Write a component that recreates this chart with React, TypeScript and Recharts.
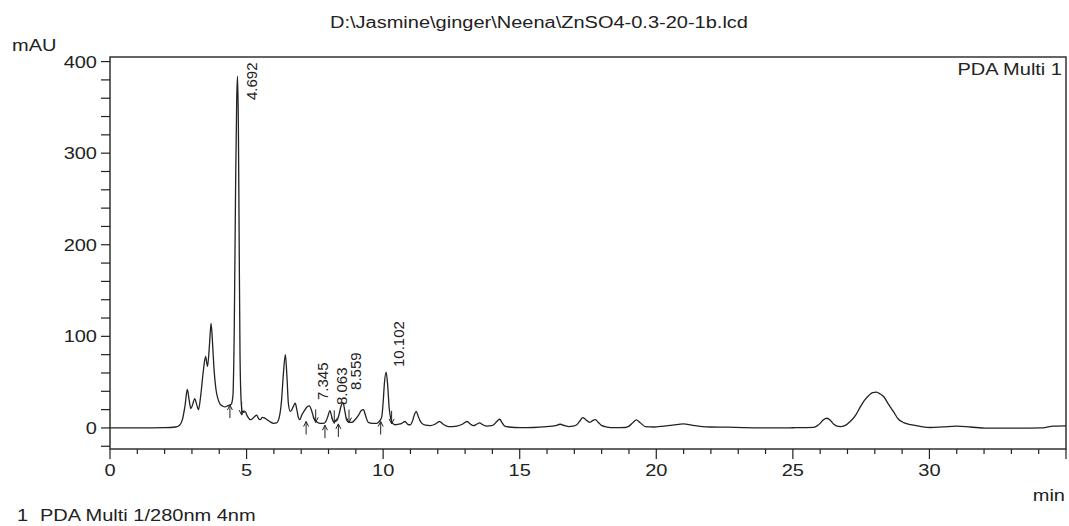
import React from "react";
import { LineChart, Line, XAxis, YAxis, ReferenceArea, ReferenceDot } from "recharts";

// retention time (min), signal (mAU)
const trace: [number, number][] = [
  [0, 0], [1.0, 0], [2.0, 0.3], [2.4, 1], [2.55, 3], [2.65, 9], [2.75, 25], [2.83, 42],
  [2.9, 30], [2.96, 21], [3.03, 26], [3.1, 32], [3.17, 26], [3.24, 20], [3.32, 35],
  [3.42, 63], [3.5, 78], [3.57, 67], [3.64, 90], [3.7, 114], [3.75, 95], [3.8, 68],
  [3.88, 42], [3.95, 32], [4.03, 26], [4.12, 24], [4.21, 23], [4.3, 24], [4.37, 25],
  [4.44, 26], [4.5, 35], [4.55, 110], [4.6, 270], [4.64, 360], [4.67, 384], [4.7, 330],
  [4.73, 200], [4.76, 80], [4.8, 30], [4.84, 18], [4.9, 17], [4.95, 18], [5.01, 14],
  [5.07, 11], [5.13, 9], [5.19, 9.5], [5.28, 12], [5.37, 14], [5.44, 10], [5.5, 9],
  [5.58, 11.5], [5.65, 11], [5.75, 9], [5.85, 7], [5.98, 5], [6.1, 5.5], [6.2, 12],
  [6.28, 30], [6.35, 60], [6.42, 80], [6.48, 55], [6.53, 27], [6.6, 18], [6.66, 20],
  [6.72, 24], [6.78, 27], [6.84, 20], [6.9, 11], [6.95, 9], [7.02, 14], [7.1, 18],
  [7.22, 23], [7.3, 24], [7.38, 19], [7.45, 12], [7.52, 8], [7.6, 6], [7.7, 5],
  [7.81, 5], [7.9, 7], [7.98, 13], [8.05, 19], [8.12, 12], [8.18, 7], [8.3, 8],
  [8.38, 14], [8.46, 24], [8.53, 28], [8.6, 18], [8.66, 9], [8.75, 6], [8.85, 6],
  [8.97, 9], [9.1, 14], [9.2, 19], [9.28, 20], [9.36, 13], [9.46, 6], [9.6, 5],
  [9.77, 5], [9.88, 8], [9.95, 12], [10.0, 28], [10.05, 50], [10.11, 61], [10.17, 45],
  [10.22, 22], [10.28, 10], [10.35, 5], [10.44, 3.5], [10.55, 4], [10.68, 5], [10.8, 7],
  [10.9, 4], [10.99, 3.5], [11.08, 8], [11.14, 14], [11.21, 18], [11.28, 13], [11.35, 8],
  [11.42, 5], [11.55, 3], [11.72, 2.5], [11.9, 4], [12.06, 7], [12.2, 4], [12.39, 1.5],
  [12.55, 1.5], [12.7, 2], [12.9, 4], [13.07, 7], [13.2, 4], [13.31, 2.5], [13.42, 4],
  [13.53, 5.5], [13.65, 3.5], [13.8, 2], [13.95, 2.5], [14.05, 3.5], [14.16, 7],
  [14.26, 9.5], [14.36, 5.5], [14.45, 2], [14.6, 1], [15.02, 0.3], [15.5, 0.5],
  [16.0, 1.5], [16.3, 2.5], [16.48, 4], [16.65, 2.5], [16.79, 1.5], [16.95, 2],
  [17.09, 3.5], [17.2, 7.5], [17.31, 11.3], [17.42, 9], [17.56, 6], [17.67, 8],
  [17.77, 9], [17.88, 6], [18.01, 2.5], [18.2, 1], [18.44, 0.3], [18.86, 0.5],
  [19.0, 2], [19.15, 6], [19.27, 8.7], [19.4, 6], [19.6, 1.5], [19.9, 1], [20.27, 2],
  [20.6, 3], [21.0, 4.4], [21.3, 3], [21.6, 1.8], [22.0, 1], [22.6, 0.8], [23.2, 0.3],
  [24.05, 0], [25.0, 0.2], [25.76, 0.7], [25.9, 2.5], [26.0, 5], [26.12, 9],
  [26.25, 10.6], [26.38, 8], [26.5, 4], [26.62, 2], [26.74, 1.5], [26.9, 2.5],
  [27.1, 7], [27.3, 14], [27.47, 23], [27.62, 30], [27.78, 35.5], [27.92, 38.5],
  [28.06, 39], [28.2, 37], [28.33, 34], [28.5, 26], [28.69, 17.5], [28.85, 10],
  [29.06, 5.8], [29.25, 4], [29.43, 3], [29.7, 1.5], [30.04, 0.5], [30.5, 1.2],
  [31.0, 2], [31.5, 1], [32.1, -0.3], [33.3, -0.3], [34.07, 0], [34.55, 2], [35, 2.2],
];

// peak retention-time labels (text start in chart units)
const peakLabels = [
  { text: "4.692", t: 5.37, v: 358 },
  { text: "7.345", t: 7.98, v: 30.5 },
  { text: "8.063", t: 8.68, v: 25 },
  { text: "8.559", t: 9.18, v: 41.5 },
  { text: "10.102", t: 10.78, v: 66.5 },
];

// integration start/end marks (arrow tip position)
const markers = [
  { t: 4.39, v: 25, dir: "up" },
  { t: 4.82, v: 14, dir: "down" },
  { t: 7.18, v: 7, dir: "up" },
  { t: 7.53, v: 6, dir: "down" },
  { t: 7.87, v: 3, dir: "up" },
  { t: 8.21, v: 5, dir: "down" },
  { t: 8.36, v: 4.4, dir: "up" },
  { t: 8.75, v: 5.8, dir: "down" },
  { t: 9.91, v: 7, dir: "up" },
  { t: 10.31, v: 4.4, dir: "down" },
];

const xTicks = Array.from({ length: 36 }, (_, i) => i);
const yTicks = Array.from({ length: 22 }, (_, i) => -20 + i * 20);

const data = trace.map(([t, v]) => ({ t, v }));

const FONT = "'Liberation Sans', Arial, Helvetica, sans-serif";
const INK = "#222";
const SX = 1.25;

const Txt = ({ x, y, anchor = "start", size = 16, children }: any) => (
  <text
    transform={`translate(${x},${y}) scale(${SX},1)`}
    textAnchor={anchor}
    fontFamily={FONT}
    fontSize={size}
    fill={INK}
  >
    {children}
  </text>
);

const YTick = ({ x, y, payload }: any) => {
  const major = payload.value % 100 === 0;
  return (
    <g>
      <line x1={x - 9} x2={x} y1={y} y2={y} stroke={INK} strokeWidth={1.2} />
      {major && (
        <Txt x={x - 13} y={y + 6} anchor="end">
          {payload.value}
        </Txt>
      )}
    </g>
  );
};

const XTick = ({ x, y, payload }: any) => {
  const major = payload.value % 5 === 0;
  return (
    <g>
      <line x1={x} x2={x} y1={y} y2={y + (major ? 10 : 5)} stroke={INK} strokeWidth={1.2} />
      {major && payload.value < 35 && (
        <Txt x={x} y={y + 27} anchor="middle">
          {payload.value}
        </Txt>
      )}
    </g>
  );
};

const PeakText = (text: string) => (p: any) => (
  <text
    transform={`translate(${p.cx},${p.cy}) rotate(-90)`}
    fontFamily={FONT}
    fontSize={15}
    fill={INK}
  >
    {text}
  </text>
);

const Arrow = (dir: string) => (p: any) => {
  const s = dir === "up" ? 1 : -1;
  const { cx, cy } = p;
  return (
    <g stroke={INK} strokeWidth={1} fill="none">
      <line x1={cx} x2={cx} y1={cy} y2={cy + s * 13} />
      <path d={`M${cx - 2.5},${cy + s * 5} L${cx},${cy} L${cx + 2.5},${cy + s * 5}`} />
    </g>
  );
};

export default function App() {
  return (
    <div style={{ position: "absolute", left: 0, top: 0, width: 1069, height: 526, background: "#fff" }}>
      <LineChart
        width={1069}
        height={526}
        data={data}
        margin={{ top: 57, right: 3, left: 0, bottom: 0 }}
      >
        <XAxis
          dataKey="t"
          type="number"
          domain={[0, 35]}
          ticks={xTicks}
          interval={0}
          height={77}
          axisLine={false}
          tickLine={false}
          tickSize={0}
          tickMargin={0}
          tick={<XTick />}
        />
        <YAxis
          type="number"
          domain={[-23, 405]}
          ticks={yTicks}
          interval={0}
          width={110}
          axisLine={false}
          tickLine={false}
          tickSize={0}
          tickMargin={0}
          tick={<YTick />}
          allowDataOverflow
        />
        <ReferenceArea x1={0} x2={35} y1={-23} y2={405} fill="none" stroke="#333" strokeWidth={1.5} />
        <Line
          dataKey="v"
          type="monotone"
          stroke={INK}
          strokeWidth={1.3}
          dot={false}
          isAnimationActive={false}
        />
        {markers.map((m, i) => (
          <ReferenceDot key={`m${i}`} x={m.t} y={m.v} r={1} shape={Arrow(m.dir)} />
        ))}
        {peakLabels.map((p) => (
          <ReferenceDot key={p.text} x={p.t} y={p.v} r={1} shape={PeakText(p.text)} />
        ))}
      </LineChart>
      <svg
        width={1069}
        height={526}
        style={{ position: "absolute", left: 0, top: 0, pointerEvents: "none" }}
      >
        <Txt x={539} y={28} anchor="middle">D:\Jasmine\ginger\Neena\ZnSO4-0.3-20-1b.lcd</Txt>
        <Txt x={12} y={51}>mAU</Txt>
        <Txt x={1062} y={75} anchor="end">PDA Multi 1</Txt>
        <Txt x={1065} y={501} anchor="end">min</Txt>
        <Txt x={17} y={521}>1</Txt>
        <Txt x={40} y={521}>PDA Multi 1/280nm 4nm</Txt>
      </svg>
    </div>
  );
}
